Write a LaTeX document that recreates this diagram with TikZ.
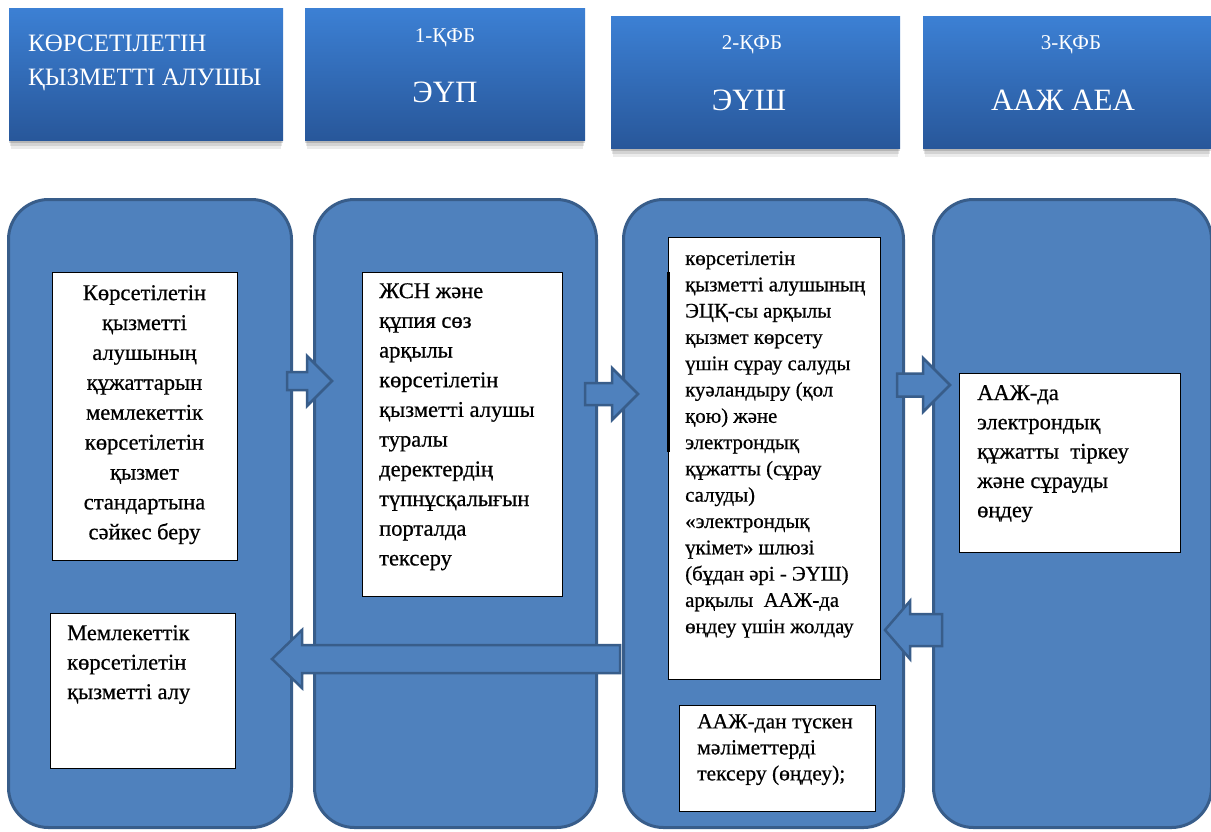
\documentclass[tikz,border=0pt]{standalone}
\usepackage{fontspec}
\setmainfont{Liberation Serif}
\newfontfamily\boxfont{Liberation Serif}[FakeBold=0.6]
\usetikzlibrary{calc}
\definecolor{lanefill}{HTML}{4F81BD}
\definecolor{laneedge}{HTML}{385D8A}
\definecolor{hdtop}{HTML}{3C80D4}
\definecolor{hdbot}{HTML}{28579A}
\tikzset{
  lane/.style={draw=laneedge, line width=3pt, fill=lanefill, rounded corners=40pt, anchor=north west, inner sep=0pt, minimum height=628pt},
  header/.style={top color=hdtop, bottom color=hdbot, draw=none, anchor=north west, inner sep=0pt, minimum height=132pt},
  hshadow/.style={fill=black, draw=none},
  wbox/.style={draw=black, line width=1.3pt, fill=white, anchor=north west, inner sep=0pt},
  barrow/.style={draw=laneedge, line width=2.5pt, fill=lanefill, line join=miter},
  hdtext/.style={text=white, inner sep=0pt, anchor=base},
  btext/.style={inner sep=0pt, anchor=north west, align=left},
  ctext/.style={inner sep=0pt, anchor=north, align=center},
}
\newcommand{\blockarr}[6]{%
  \draw[barrow] (#1,{#3-#4}) -- (#2,{#3-#4}) -- (#2,{#3-#5}) -- (#6,#3) -- (#2,{#3+#5}) -- (#2,{#3+#4}) -- (#1,{#3+#4}) -- cycle;}
\newcommand{\hdshadow}[4]{%
  \fill[hshadow, opacity=0.08] (#1+2,{#3+2}) rectangle (#2-2,{#4+9});
  \fill[hshadow, opacity=0.10] (#1+1,{#3+1}) rectangle (#2-1,{#4+6});
  \fill[hshadow, opacity=0.14] (#1,#3) rectangle (#2,{#4+3});}
\begin{document}
\begin{tikzpicture}[x=1pt, y=-1pt]
\useasboundingbox (0,0) rectangle (1211,831);
\fill[white] (0,0) rectangle (1211,831);

% header shadows
\hdshadow{9}{283}{8}{140}
\hdshadow{305}{585}{8}{140}
\hdshadow{611}{900}{16}{148}
\hdshadow{923}{1211}{16}{148}

% headers
\node[header, minimum width=274pt] (h1) at (9,8) {};
\node[header, minimum width=280pt] (h2) at (305,8) {};
\node[header, minimum width=289pt] (h3) at (611,16) {};
\node[header, minimum width=288pt] (h4) at (923,16) {};

\node[text=white, inner sep=0pt, anchor=north west, align=left, font=\fontsize{25pt}{34pt}\selectfont] (h1t) at (28,35) {КӨРСЕТІЛЕТІН\\ҚЫЗМЕТТІ АЛУШЫ};
\node[hdtext, font=\fontsize{21pt}{25pt}\selectfont] (h2a) at (445,42) {1-ҚФБ};
\node[hdtext, font=\fontsize{31pt}{36pt}\selectfont] (h2b) at (445,102) {ЭҮП};
\node[hdtext, font=\fontsize{21pt}{25pt}\selectfont] (h3a) at (752,49) {2-ҚФБ};
\node[hdtext, font=\fontsize{31pt}{36pt}\selectfont] (h3b) at (749,110) {ЭҮШ};
\node[hdtext, font=\fontsize{21pt}{25pt}\selectfont] (h4a) at (1071,49) {3-ҚФБ};
\node[hdtext, font=\fontsize{31pt}{36pt}\selectfont] (h4b) at (1063,110) {ААЖ АЕА};

% lanes
\node[lane, minimum width=283pt] (lane1) at (7,198) {};
\node[lane, minimum width=282pt] (lane2) at (313,198) {};
\node[lane, minimum width=280pt] (lane3) at (622,198) {};
\node[lane, minimum width=278pt] (lane4) at (932,198) {};

% block arrows between the lanes
\blockarr{287}{307}{381}{9}{25}{332}
\blockarr{585}{612}{394}{11}{26}{638}
\blockarr{897}{923}{385}{11.5}{27}{950}
\blockarr{942}{910}{630}{16}{29}{885}
\blockarr{620}{302}{659}{14}{29}{272}

% white boxes
\node[wbox, minimum width=185pt, minimum height=288pt] (bA) at (52,272) {};
\node[ctext, font=\boxfont\fontsize{22.5pt}{29.9pt}\selectfont] (tA) at (144.5,285) {Көрсетілетін\\қызметті\\алушының\\құжаттарын\\мемлекеттік\\көрсетілетін\\қызмет\\стандартына\\сәйкес беру};

\node[wbox, minimum width=185pt, minimum height=155pt] (bB) at (50,613) {};
\node[btext, font=\boxfont\fontsize{22.5pt}{29.5pt}\selectfont] (tB) at (67,625) {Мемлекеттік\\көрсетілетін\\қызметті алу};

\node[wbox, minimum width=200pt, minimum height=324pt] (bC) at (362,272) {};
\node[btext, font=\boxfont\fontsize{22.5pt}{29.7pt}\selectfont] (tC) at (379,283) {ЖСН және\\құпия сөз\\арқылы\\көрсетілетін\\қызметті алушы\\туралы\\деректердің\\түпнұсқалығын\\порталда\\тексеру};

\node[wbox, minimum width=212pt, minimum height=442pt] (bD) at (668,237) {};
\draw[black, line width=3pt] (bD.north west) ++(0,35) coordinate (barA) -- ++(0,180) coordinate (barB);
\node[btext, font=\boxfont\fontsize{20.8pt}{26.3pt}\selectfont] (tD) at (685,251) {көрсетілетін\\қызметті алушының\\ЭЦҚ-сы арқылы\\қызмет көрсету\\үшін сұрау салуды\\куәландыру (қол\\қою) және\\электрондық\\құжатты (сұрау\\салуды)\\«электрондық\\үкімет» шлюзі\\(бұдан әрі - ЭҮШ)\\арқылы\ \ ААЖ-да\\өңдеу үшін жолдау};

\node[wbox, minimum width=196pt, minimum height=106pt] (bE) at (679,705) {};
\node[btext, font=\boxfont\fontsize{21.5pt}{26pt}\selectfont] (tE) at (697,714) {ААЖ-дан түскен\\мәліметтерді\\тексеру (өңдеу);};

\node[wbox, minimum width=221pt, minimum height=179pt] (bF) at (959,373) {};
\node[btext, font=\boxfont\fontsize{22.5pt}{29.3pt}\selectfont] (tF) at (977,385) {ААЖ-да\\электрондық\\құжатты\ \ тіркеу\\және сұрауды\\өңдеу};
\end{tikzpicture}
\end{document}
